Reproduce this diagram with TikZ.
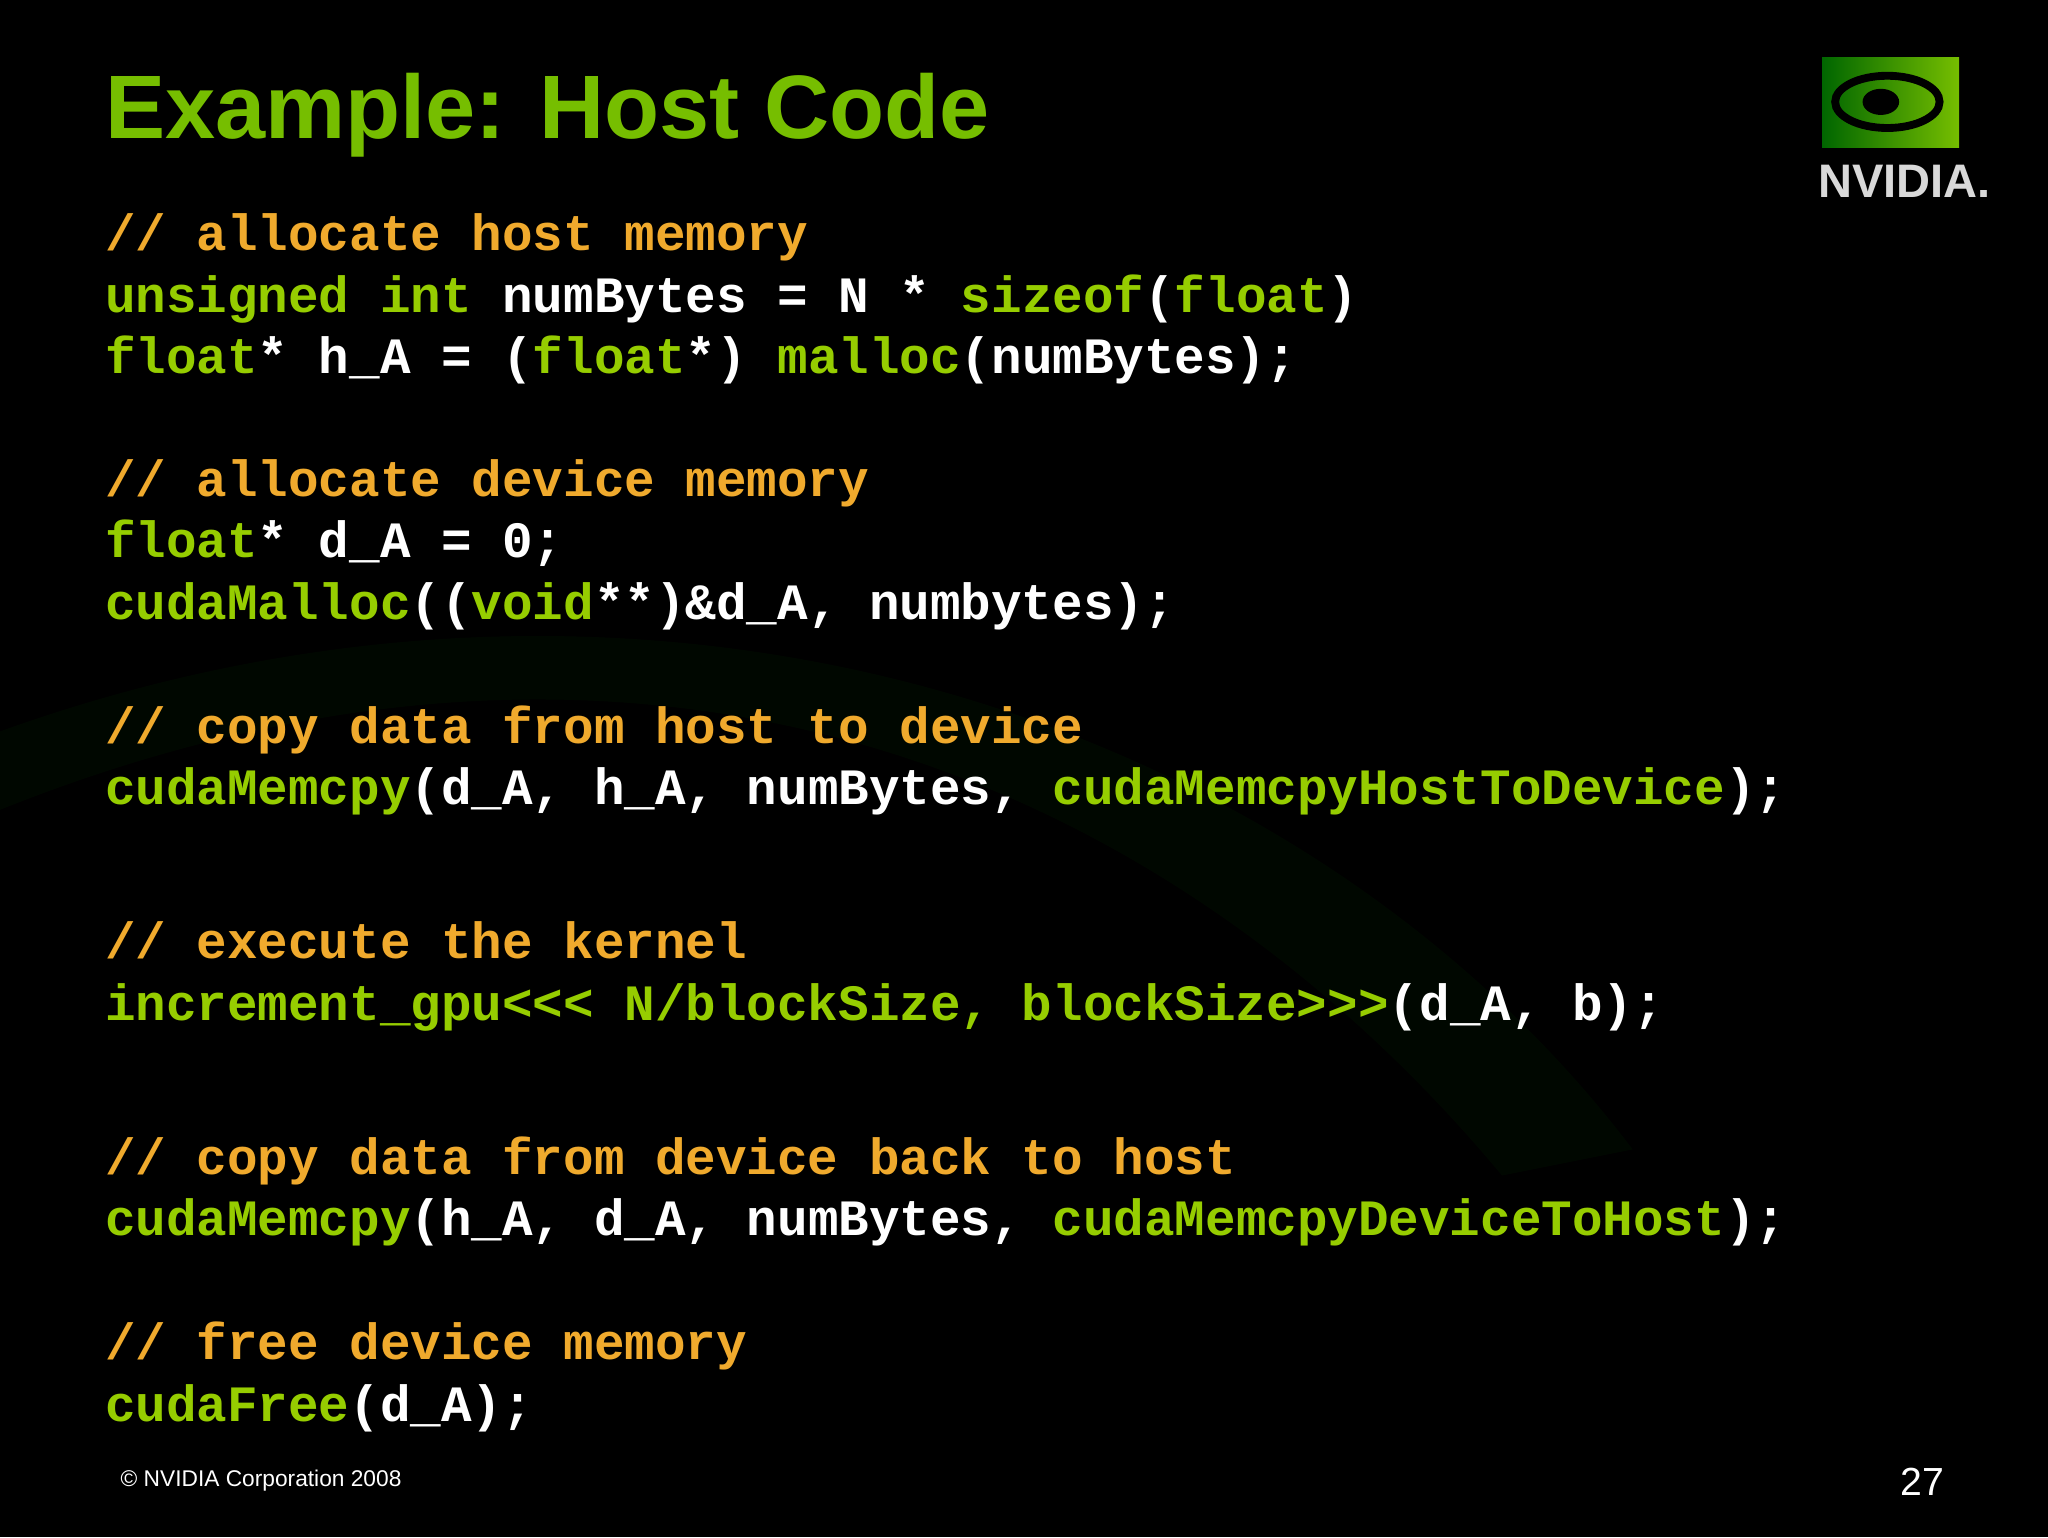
\documentclass[tikz,border=0pt]{standalone}
\usepackage{fontspec}
\setmainfont{Liberation Sans}
\setmonofont{Liberation Mono}
\definecolor{cgreen}{RGB}{150,205,0}
\definecolor{ttl}{RGB}{118,190,0}
\definecolor{corange}{RGB}{240,170,45}
\newcommand{\cg}[1]{\textcolor{cgreen}{#1}}
\newcommand{\co}[1]{\textcolor{corange}{#1}}
\tikzset{code/.style={anchor=base west,inner sep=0pt,text=white,font=\ttfamily\bfseries\fontsize{19.5}{20}\selectfont}}
\begin{document}
\begin{tikzpicture}[x=0.5pt,y=-0.5pt]
\fill[black] (0,0) rectangle (1568,1177);
\useasboundingbox (0,0) rectangle (1568,1177);
\fill[green!25!black,opacity=0.12] (0,620) .. controls (500,420) and (900,600) .. (1150,900) -- (1250,880) .. controls (1000,550) and (500,380) .. (0,560) -- cycle;
\node[anchor=base west,inner sep=0pt,text=ttl,font=\bfseries\fontsize{34.5}{36}\selectfont] (title) at (80,106) {Example: Host Code};
% logo
\shade[left color=green!40!black,right color=ttl] (1395,44) rectangle (1500,113) coordinate (logo);
\draw[black,line width=3pt] (1445,78) ellipse (40 and 20);
\fill[black] (1440,78) ellipse (14 and 10);
\node[anchor=base,inner sep=0pt,text=white!85!black,font=\bfseries\fontsize{18}{20}\selectfont] (nv) at (1458,151) {NVIDIA.};
\node[code] (l1) at (80,192) {\co{// allocate host memory}};
\node[code] (l2) at (80,239) {\cg{unsigned int} numBytes = N * \cg{sizeof}(\cg{float})};
\node[code] (l3) at (80,286) {\cg{float}* h\_A = (\cg{float}*) \cg{malloc}(numBytes);};
\node[code] (l4) at (80,380) {\co{// allocate device memory}};
\node[code] (l5) at (80,427) {\cg{float}* d\_A = 0;};
\node[code] (l6) at (80,474) {\cg{cudaMalloc}((\cg{void}**)\&d\_A, numbytes);};
\node[code] (l7) at (80,569) {\co{// copy data from host to device}};
\node[code] (l8) at (80,616) {\cg{cudaMemcpy}(d\_A, h\_A, numBytes, \cg{cudaMemcpyHostToDevice});};
\node[code] (l9) at (80,734) {\co{// execute the kernel}};
\node[code] (l10) at (80,781) {\cg{increment\_gpu<{}<{}< N/blockSize, blockSize>{}>{}>}(d\_A, b);};
\node[code] (l11) at (80,899) {\co{// copy data from device back to host}};
\node[code] (l12) at (80,946) {\cg{cudaMemcpy}(h\_A, d\_A, numBytes, \cg{cudaMemcpyDeviceToHost});};
\node[code] (l13) at (80,1041) {\co{// free device memory}};
\node[code] (l14) at (80,1088) {\cg{cudaFree}(d\_A);};
\node[anchor=base west,inner sep=0pt,text=white,font=\fontsize{8.7}{10}\selectfont] (copy) at (92,1138) {© NVIDIA Corporation 2008};
\node[anchor=base west,inner sep=0pt,text=white,font=\fontsize{15}{16}\selectfont] (pg) at (1455,1145) {27};
\end{tikzpicture}
\end{document}
